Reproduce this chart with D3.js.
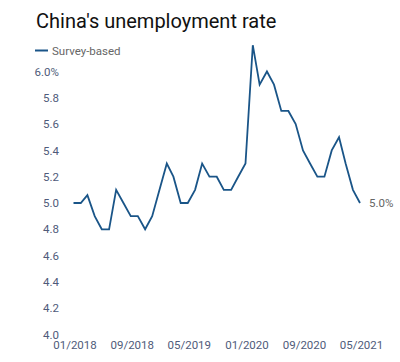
<!DOCTYPE html>
<html>
<head>
<meta charset="utf-8">
<script src="https://cdn.jsdelivr.net/npm/d3@7"></script>
<style>
  body { margin: 0; background: #fff; }
  text { font-family: Roboto, "Open Sans", sans-serif; }
</style>
</head>
<body>
<svg id="chart" width="400" height="362"></svg>
<script>
// monthly survey-based unemployment rate, 01/2018 .. 05/2021
var startMonth = "2018-01";
var rates = [5.0, 5.0, 5.06, 4.9, 4.8, 4.8, 5.1, 5.0, 4.9, 4.9, 4.8, 4.9,
             5.1, 5.3, 5.2, 5.0, 5.0, 5.1, 5.3, 5.2, 5.2, 5.1, 5.1, 5.2,
             5.3, 6.2, 5.9, 6.0, 5.9, 5.7, 5.7, 5.6, 5.4, 5.3, 5.2, 5.2,
             5.4, 5.5, 5.3, 5.1, 5.0];
var yTicks = [4.0, 4.2, 4.4, 4.6, 4.8, 5.0, 5.2, 5.4, 5.6, 5.8, 6.0];
var xTickLabels = ["01/2018", "09/2018", "05/2019", "01/2020", "09/2020", "05/2021"];
var seriesName = "Survey-based";

var parseMonth = d3.timeParse("%Y-%m");
var t0 = parseMonth(startMonth);
var data = rates.map(function(v, i) { return {date: d3.timeMonth.offset(t0, i), value: v}; });
var parseTick = d3.timeParse("%m/%Y");

var svg = d3.select("#chart");

var x = d3.scaleTime()
    .domain([data[0].date, data[data.length - 1].date])
    .range([73.5, 360]);
var y = d3.scaleLinear().domain([4, 6]).range([334.5, 71.5]);

// title
svg.append("text")
    .attr("x", 36).attr("y", 28)
    .style("font-size", "20px")
    .style("fill", "#111")
    .text("China's unemployment rate");

// legend
svg.append("line")
    .attr("x1", 35).attr("x2", 48)
    .attr("y1", 50.5).attr("y2", 50.5)
    .style("stroke", "#1a5588").style("stroke-width", 2);
svg.append("text")
    .attr("x", 52).attr("y", 54.5)
    .style("font-size", "11.5px")
    .style("fill", "#666")
    .text(seriesName);

// y axis
var yAxis = d3.axisLeft(y)
    .tickValues(yTicks)
    .tickSize(0).tickPadding(0)
    .tickFormat(function(d) { return d === 6 ? "6.0%" : d3.format(".1f")(d); });
var gy = svg.append("g").attr("transform", "translate(59,0)").call(yAxis);
gy.select(".domain").remove();
gy.selectAll("text")
    .style("font-family", "Roboto, sans-serif")
    .style("font-size", "11.5px")
    .style("fill", "#4f5b7a");

// x axis
var xAxis = d3.axisBottom(x)
    .tickValues(xTickLabels.map(parseTick))
    .tickSize(0).tickPadding(0)
    .tickFormat(d3.timeFormat("%m/%Y"));
var gx = svg.append("g").attr("transform", "translate(1,341)").call(xAxis);
gx.select(".domain").remove();
gx.selectAll("text")
    .style("font-family", "Roboto, sans-serif")
    .style("font-size", "11.5px")
    .style("fill", "#4f5b7a");

// line
var line = d3.line()
    .x(function(d) { return x(d.date); })
    .y(function(d) { return y(d.value); });
svg.append("path")
    .datum(data)
    .attr("d", line)
    .style("fill", "none")
    .style("stroke", "#1a5588")
    .style("stroke-width", 1.8)
    .style("stroke-linejoin", "miter");

// end label
var last = data[data.length - 1];
svg.append("text")
    .attr("x", x(last.date) + 9)
    .attr("y", y(last.value) + 4)
    .style("font-size", "11.5px")
    .style("fill", "#666")
    .text(d3.format(".1f")(last.value) + "%");
</script>
</body>
</html>
